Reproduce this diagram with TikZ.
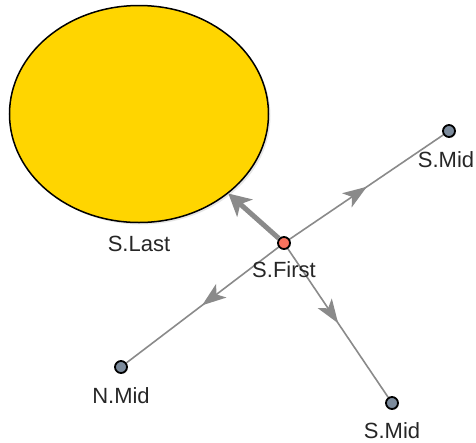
\documentclass[tikz,border=0pt]{standalone}
\usepackage{fontspec}
\setmainfont{Liberation Sans}
\usetikzlibrary{arrows.meta,decorations.markings,shapes.geometric,shadows,backgrounds}

\definecolor{sungold}{HTML}{FFD500}
\definecolor{startred}{HTML}{F8735E}
\definecolor{slate}{HTML}{7C8B9C}
\definecolor{edgegray}{HTML}{8A8A8A}

\begin{document}
\begin{tikzpicture}[x=1pt,y=-1pt]  % 1 unit = 1 px of the 476 x 442 frame

    % Define some common styles
    \tikzset{
        lbl/.style={font=\fontsize{22}{22}\selectfont, text=black!85},
        endpt/.style={circle, draw=black, line width=1.8pt, fill=slate, minimum size=12pt, inner sep=0pt,
            drop shadow={opacity=0.25, shadow xshift=1pt, shadow yshift=-1pt}},
        startpt/.style={endpt, fill=startred},
        lastbody/.style={ellipse, draw=black, line width=1.5pt, fill=sungold, minimum width=259pt, minimum height=217pt,
            drop shadow={opacity=0.2, shadow xshift=2pt, shadow yshift=-2pt}},
        midarrow/.style={draw=edgegray, line width=1.6pt, postaction=decorate,
            decoration={markings, mark=at position 0.52 with {\arrow{Stealth[length=24pt, width=17pt, inset=6pt]}}}},
        bigarrow/.style={draw=edgegray, line width=5pt, -{Stealth[length=22pt, width=23pt, inset=6pt]}}
    }

    % Frame of the picture
    \useasboundingbox (0,0) rectangle (476,442);

    % The big body and its label
    \node[lastbody, label={[lbl, label distance=9pt]below:S.Last}] (last) at (139,114) {};

    % Start point and end points
    \node[startpt, label={[lbl, label distance=8pt]below:S.First}] (first) at (284,243) {};
    \node[endpt, label={[lbl, label distance=10pt, xshift=-3pt]below:S.Mid}] (midne) at (449,131) {};
    \node[endpt, label={[lbl, label distance=10pt]below:N.Mid}] (nmid) at (121,367) {};
    \node[endpt, label={[lbl, label distance=9pt]below:S.Mid}] (midse) at (392,403) {};

    % Edges out of the start point (arrow at the middle)
    \begin{scope}[on background layer]
        \draw[midarrow] (first.center) -- (midne);
        \draw[midarrow] (first.center) -- (nmid);
        \draw[midarrow] (first.center) -- (midse);
    \end{scope}

    % Heavy arrow into the body
    \draw[bigarrow] (first) -- (last);

\end{tikzpicture}
\end{document}
